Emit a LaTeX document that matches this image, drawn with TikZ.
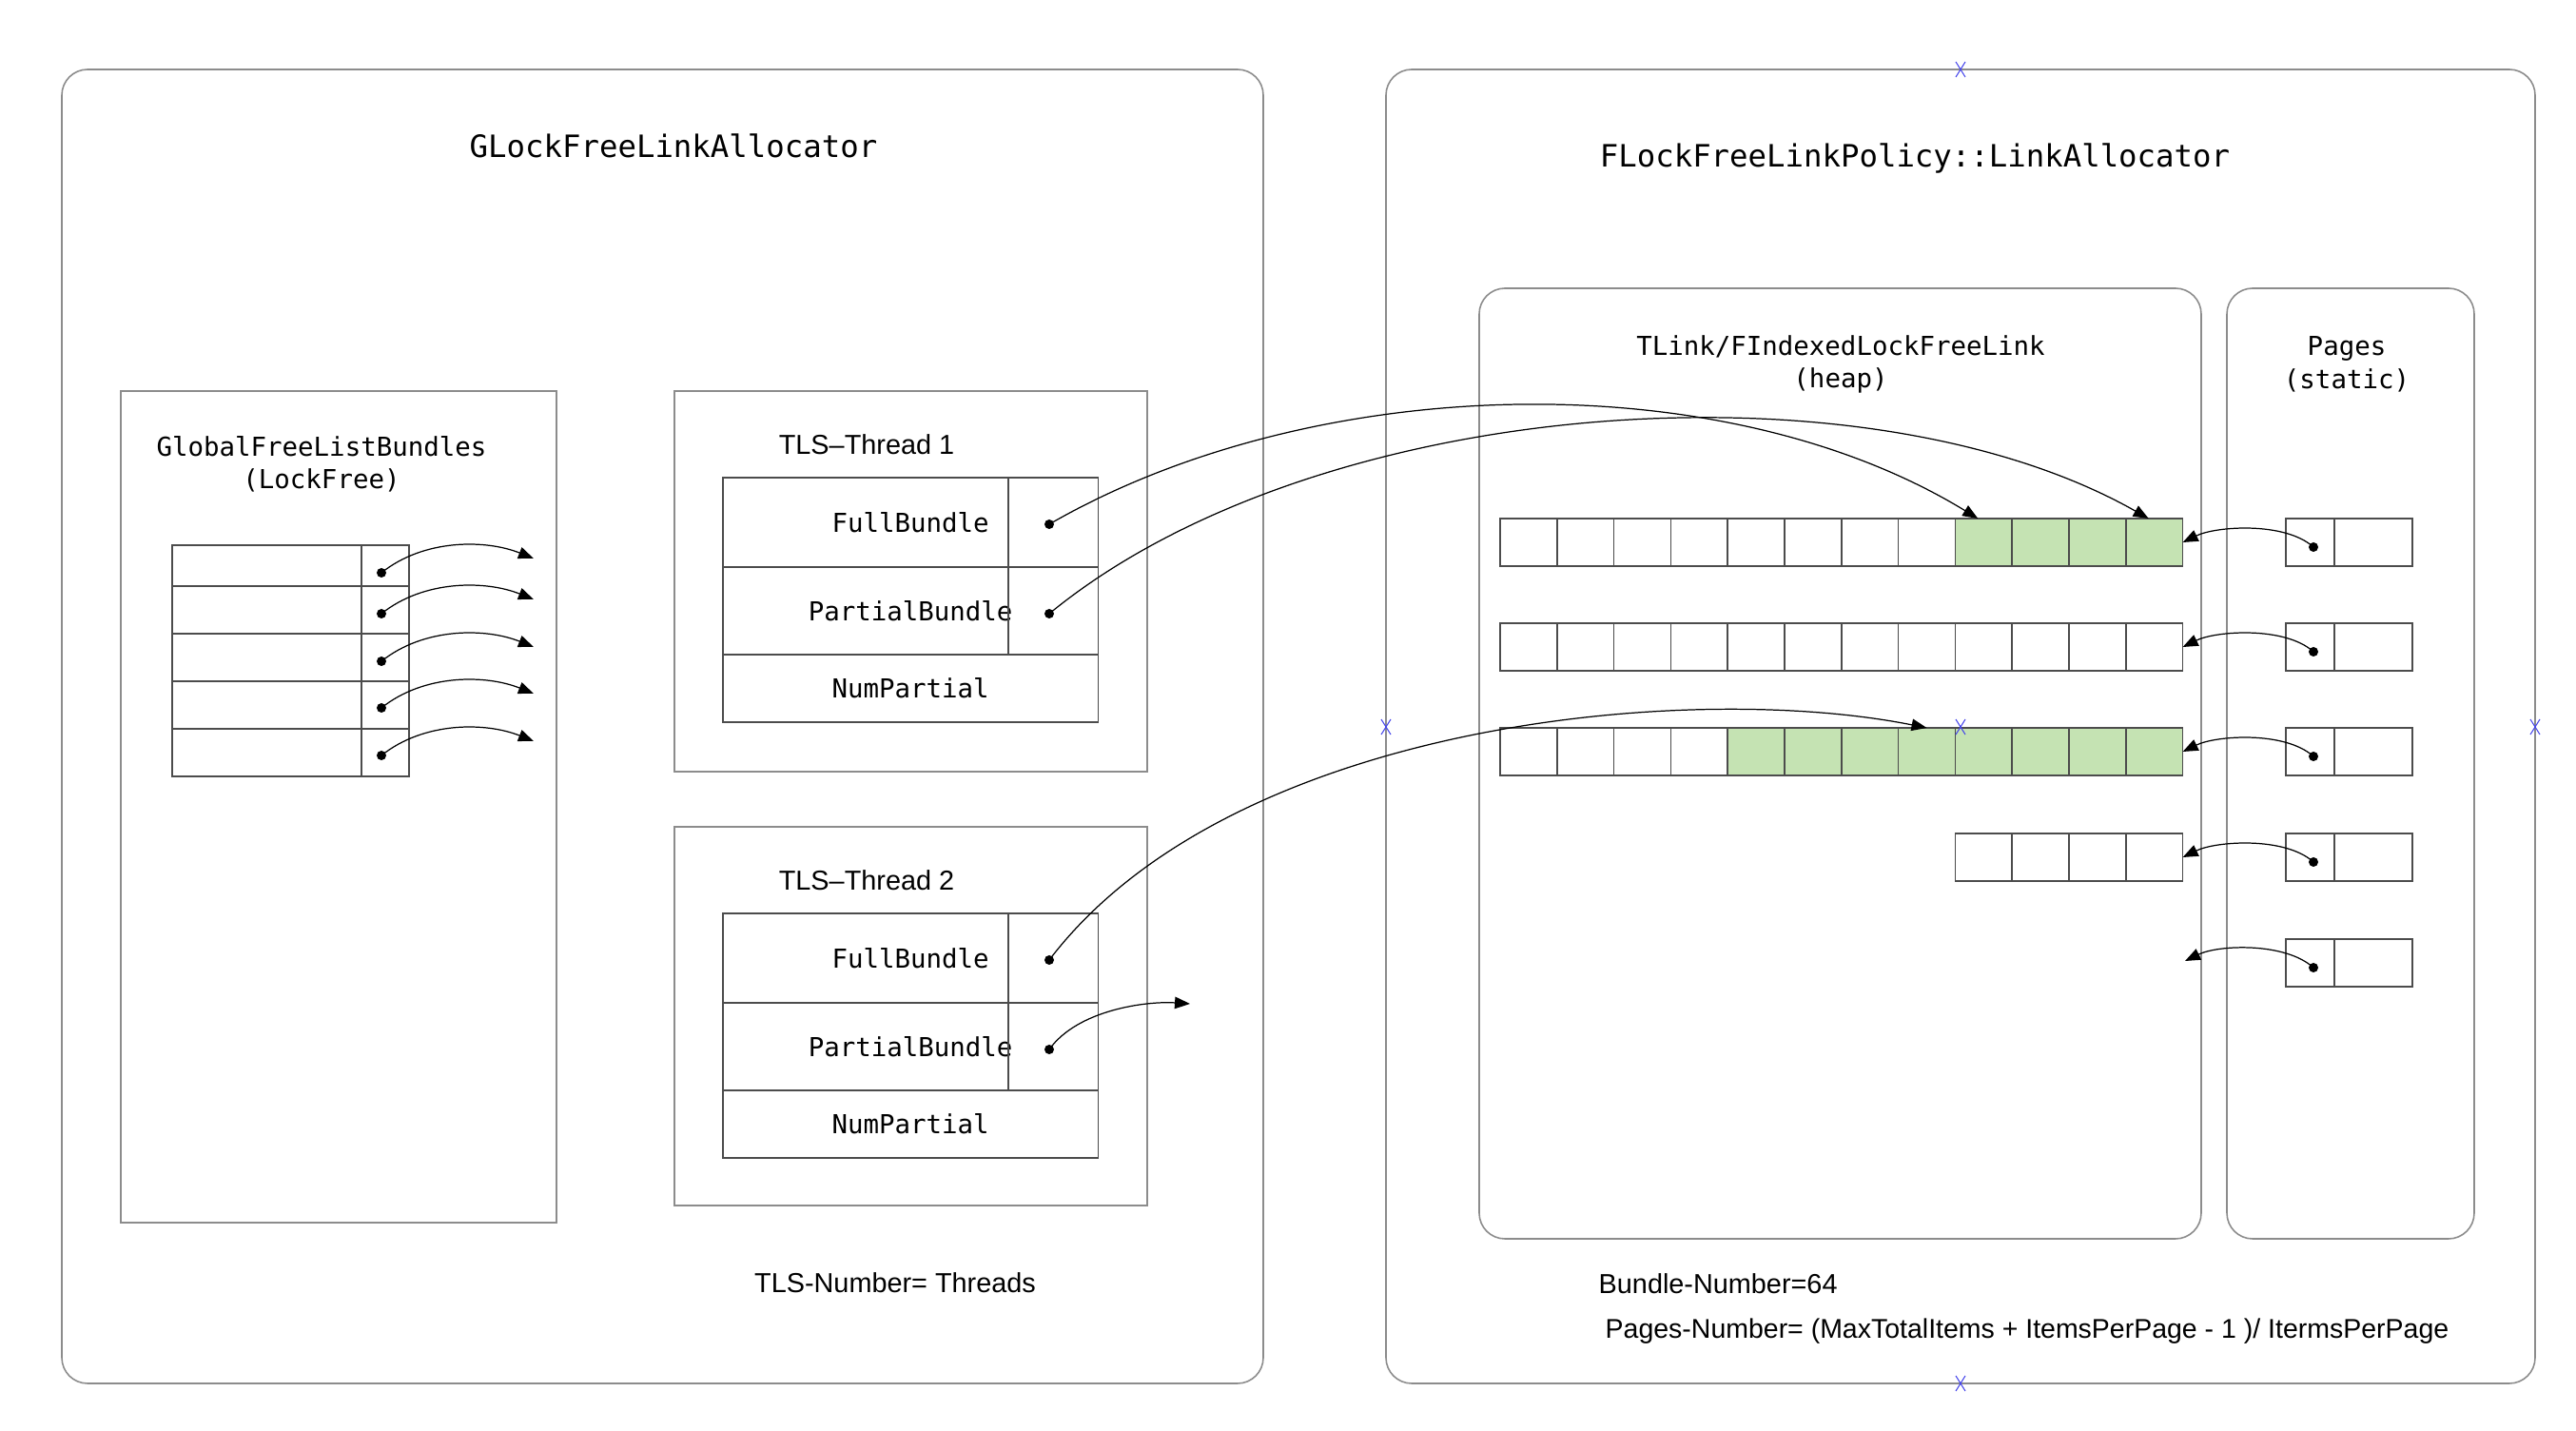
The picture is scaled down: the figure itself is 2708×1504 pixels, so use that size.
\documentclass[tikz,border=0pt]{standalone}
\usepackage{fontspec}
\setmonofont{DejaVu Sans Mono}
\setsansfont{Liberation Sans}
\usepackage{tikz}
\usetikzlibrary{arrows.meta}
\definecolor{usedgreen}{RGB}{197,227,179}
\definecolor{handleblue}{RGB}{70,70,235}
\tikzset{
  frame/.style={draw=black!45,line width=0.45pt,rounded corners=0.27cm},
  plainbox/.style={draw=black!45,line width=0.45pt},
  tbl/.style={draw=black!70,line width=0.4pt},
  row/.style={tbl,anchor=north west,inner sep=0pt,outer sep=0pt,minimum width=3.94cm,font=\ttfamily\fontsize{7.8}{10}\selectfont},
  cell/.style={tbl,minimum width=0.598cm,minimum height=0.5cm,inner sep=0pt,outer sep=0pt},
  ptr/.style={-{Triangle[length=0.16cm,width=0.125cm]},line width=0.35pt},
  big/.style={font=\ttfamily\fontsize{9.2}{11}\selectfont},
  lbl/.style={font=\ttfamily\fontsize{7.8}{9.8}\selectfont,align=center},
  note/.style={font=\sffamily\fontsize{8.2}{10}\selectfont,inner sep=0pt},
  handle/.style={draw=handleblue,line width=0.3pt}
}
\begin{document}
\begin{tikzpicture}[x=0.01cm,y=-0.01cm]
\useasboundingbox (0,0) rectangle (2708,1504);
% GLockFreeLinkAllocator
\draw[frame] (65,73) rectangle (1328,1454);
\node[big] (galloc) at (708,153) {GLockFreeLinkAllocator};
\draw[plainbox] (127,411) rectangle (585,1285);
\node[lbl] (glist) at (338,488) {GlobalFreeListBundles\\(LockFree)};
\foreach \i/\t/\b/\d in {1/573/616/602,2/616/666/645,3/666/716/695,4/716/766/744,5/766/816/794} {
  \draw[tbl] (181,\t) rectangle (430,\b);
  \draw[tbl] (380,\t)--(380,\b);
  \coordinate (g\i-dot) at (401,\d);
  \coordinate (g\i-end) at (561,\d-15);
  \fill (g\i-dot) circle (0.05cm);
  \draw[ptr] (g\i-dot) .. controls +(45,-36) and +(-50,-20) .. (g\i-end);
}
\foreach \n/\ty/\by in {1/411/811,2/869/1267} {
  \draw[plainbox] (709,\ty) rectangle (1206,\by);
  \node[font=\sffamily\fontsize{8.2}{10}\selectfont] (t\n-name) at (911,\ty+56) {TLS–Thread \n};
  \node[row,minimum height=0.94cm] (t\n-full) at (760,\ty+91) {FullBundle};
  \node[row,minimum height=0.92cm] (t\n-part) at (760,\ty+185) {PartialBundle};
  \node[row,minimum height=0.71cm] (t\n-num) at (760,\ty+277) {NumPartial};
  \draw[tbl] (1060,\ty+91)--(1060,\ty+277);
  \coordinate (t\n-fd) at (1103,\ty+140);
  \coordinate (t\n-pd) at (1103,\ty+234);
  \fill (t\n-fd) circle (0.05cm);
  \fill (t\n-pd) circle (0.05cm);
}
\node[note] (tlsnum) at (941,1348) {TLS-Number= Threads};
% FLockFreeLinkPolicy::LinkAllocator
\draw[frame] (1457,73) rectangle (2665,1454);
\node[big] (policy) at (2013,167) {FLockFreeLinkPolicy::LinkAllocator};
\draw[frame] (1555,303) rectangle (2314,1302);
\draw[frame] (2341,303) rectangle (2601,1302);
\node[lbl] (heap) at (1935,383) {TLink/FIndexedLockFreeLink\\(heap)};
\node[lbl] (pages) at (2467,383) {Pages\\(static)};
\foreach \r/\y/\first/\used in {1/545/1/9,2/655/1/13,3/765/1/5,4/876/9/13} {
  \foreach \c in {\first,...,12} {
    \ifnum\c<\used\def\fillc{white}\else\def\fillc{usedgreen}\fi
    \node[cell,fill=\fillc] (h\r-\c) at (1577+59.8*\c-29.9,\y+25) {};
  }
}
\coordinate (h5-end) at (2297,1010);
\foreach \r/\y/\tgt in {1/545/h1-12.east,2/655/h2-12.east,3/765/h3-12.east,4/876/h4-12.east,5/987/h5-end} {
  \node[cell,minimum width=0.51cm] (p\r-a) at (2428.5,\y+25) {};
  \node[cell,minimum width=0.82cm,anchor=west] (p\r-b) at (p\r-a.east) {};
  \coordinate (p\r-dot) at (2432,\y+30);
  \fill (p\r-dot) circle (0.05cm);
  \draw[ptr] (p\r-dot) .. controls +(-30,-27) and +(35,-17) .. (\tgt);
}
\draw[ptr] (t1-fd) .. controls +(277,-160) and +(-270,-165) .. ([xshift=-0.06cm]h1-9.north);
\draw[ptr] (t1-pd) .. controls +(280,-230) and +(-300,-170) .. ([xshift=-0.06cm]h1-12.north);
\draw[ptr] (t2-fd) .. controls +(190,-250) and +(-250,-50) .. (h3-8.north);
\coordinate (t2-end) at (1251,1055);
\draw[ptr] (t2-pd) .. controls +(30,-42) and +(-45,-3) .. (t2-end);
\node[note,anchor=west] (bundlenum) at (1680,1349) {Bundle-Number=64};
\node[note,anchor=west,font=\sffamily\fontsize{8.1}{10}\selectfont] (pagesnum) at (1687,1399) {Pages-Number= (MaxTotalItems + ItemsPerPage - 1 )/ ItermsPerPage};
\foreach \x/\y in {2061/73,2061/1454,1457/764,2665/764,2061/764} {
  \draw[handle] (\x-5,\y-8)--(\x+5,\y+8) (\x-5,\y+8)--(\x+5,\y-8);
}
\end{tikzpicture}
\end{document}
